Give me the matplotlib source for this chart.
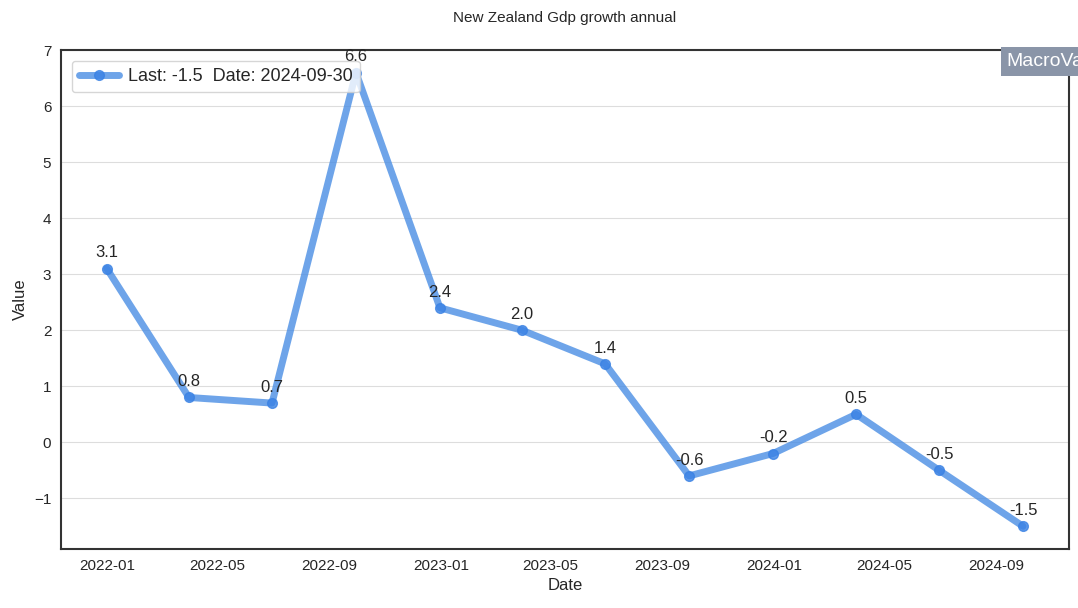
import pandas as pd
import numpy as np
import matplotlib
matplotlib.use("Agg")
import matplotlib.pyplot as plt
import matplotlib.dates as mdates
import seaborn as sns

# quarterly annual GDP growth, New Zealand
dates = ["2021-12-31", "2022-03-31", "2022-06-30", "2022-09-30",
         "2022-12-31", "2023-03-31", "2023-06-30", "2023-09-30",
         "2023-12-31", "2024-03-31", "2024-06-30", "2024-09-30"]
values = [3.1, 0.8, 0.7, 6.6, 2.4, 2.0, 1.4, -0.6, -0.2, 0.5, -0.5, -1.5]

title = "New Zealand Gdp growth annual"
watermark = "MacroVar"


def main() -> None:
    sns.set_style("whitegrid")
    plt.rcParams["font.family"] = ["Liberation Sans", "DejaVu Sans"]

    df = pd.DataFrame({"date": pd.to_datetime(dates), "value": values})

    fig = plt.figure(figsize=(10.78, 6.08), dpi=100)
    ax = fig.add_axes([0.0566, 0.097, 0.935, 0.821])

    last = df.iloc[-1]
    label = f"Last: {last['value']:.1f}  Date: {last['date']:%Y-%m-%d}"
    ax.plot(df["date"], df["value"], color="#4a8ee4", alpha=0.8, linewidth=5,
            marker="o", markersize=7, markerfacecolor="#3a82e4",
            markeredgecolor="#3a82e4", label=label)

    for d, v in zip(df["date"], df["value"]):
        ax.annotate(f"{v:.1f}", (d, v), xytext=(0, 6), textcoords="offset points",
                    ha="center", va="bottom", fontsize=12, color="#262626")

    ax.set_title(title, fontsize=11, pad=20, color="#262626")
    ax.set_xlabel("Date", fontsize=12, color="#262626", labelpad=4)
    ax.set_ylabel("Value", fontsize=12, color="#262626")
    ax.tick_params(labelsize=11, colors="#262626")

    ax.xaxis.set_major_locator(mdates.MonthLocator(bymonth=[1, 5, 9]))
    ax.xaxis.set_major_formatter(mdates.DateFormatter("%Y-%m"))
    ax.set_yticks(np.arange(-1, 8, 1))
    ax.set_yticklabels(["\u22121"] + [str(i) for i in range(0, 8)])

    ax.grid(axis="x", visible=False)
    ax.grid(axis="y", color="#dddddd", linewidth=0.8)
    for s in ax.spines.values():
        s.set_color("#333333")
        s.set_linewidth(1.5)

    ax.legend(loc="upper left", fontsize=13, frameon=True, borderaxespad=0.6,
              handlelength=2.2, handletextpad=0.5)

    fig.text(0.9335, 0.899, watermark, fontsize=14, color="white", va="center",
             ha="left", bbox=dict(facecolor="#8a95a8", edgecolor="none", pad=4))

    fig.savefig("out.png", dpi=100)
    plt.close(fig)


if __name__ == "__main__":
    main()
